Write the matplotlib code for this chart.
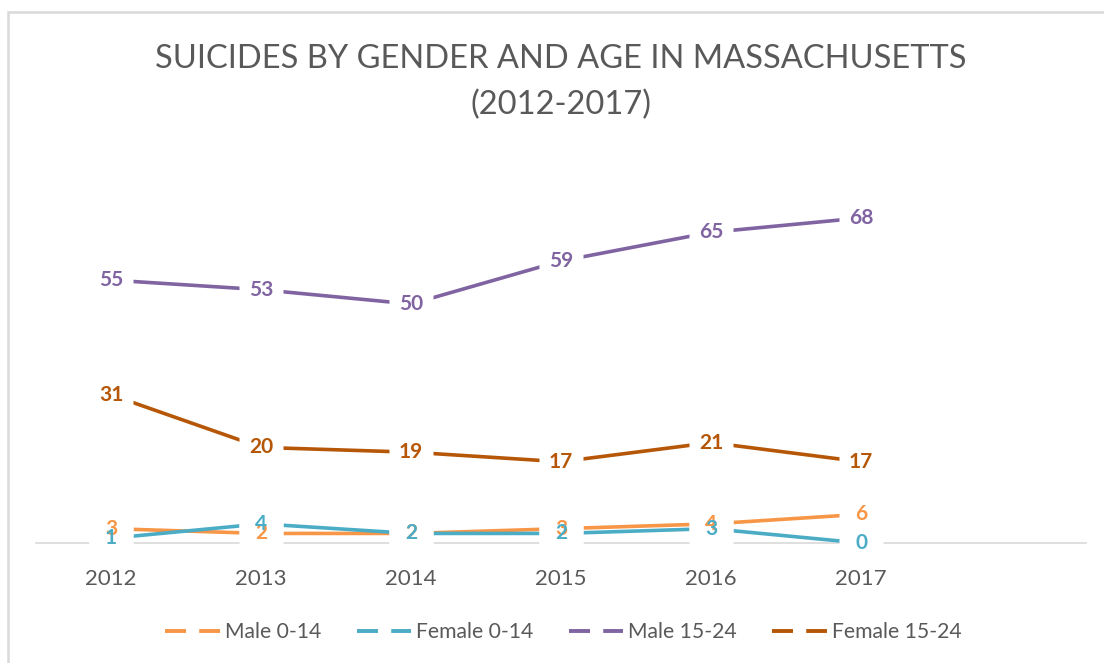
import matplotlib
matplotlib.use('Agg')
import numpy as np
import matplotlib.pyplot as plt
from matplotlib.lines import Line2D
from matplotlib.patches import Rectangle

plt.rcParams['font.family'] = ['Lato', 'DejaVu Sans']

years = ['2012', '2013', '2014', '2015', '2016', '2017']
male_0_14 = [3, 2, 2, 3, 4, 6]
female_0_14 = [1, 4, 2, 2, 3, 0]
male_15_24 = [55, 53, 50, 59, 65, 68]
female_15_24 = [31, 20, 19, 17, 21, 17]

names = ['Male 0-14', 'Female 0-14', 'Male 15-24', 'Female 15-24']
values = [male_0_14, female_0_14, male_15_24, female_15_24]
colors = ['#F79646', '#4BACC6', '#8064A2', '#B65708']

W, H = 1104, 663
fig = plt.figure(figsize=(W / 100, H / 100), dpi=100)

# chart area border (light gray)
fig.add_artist(Rectangle((7.5 / W, -0.05), 1.1, 1 - 11.5 / H + 0.05,
                         transform=fig.transFigure, fill=False,
                         edgecolor='#D9D9D9', lw=1.8, clip_on=False))

ax = fig.add_axes([36 / W, 120 / H, 1050 / W, 393 / H])
x = np.arange(len(years))

for name, vals, c in zip(names, values, colors):
    ax.plot(x, vals, color=c, lw=2.6, solid_capstyle='butt', zorder=2.6)

# white boxes behind the data labels (break the lines like in Excel)
box = [(-1, -0.72), (1, -0.72), (1, 0.72), (-1, 0.72), (-1, -0.72)]
for vals in values:
    ax.plot(x, vals, linestyle='none', marker=box, markersize=31.5,
            mfc='white', mec='none', zorder=3, clip_on=False)

for vals, c in zip(values, colors):
    for xi, v in zip(x, vals):
        ax.text(xi, v, str(v), ha='center', va='center', fontsize=15,
                fontweight='bold', color=c, zorder=4)

ax.set_xlim(-0.5, 6.5)
ax.set_ylim(0, 393 / 4.78)
ax.set_xticks(x)
ax.set_xticklabels(years, fontsize=16, color='#595959')
ax.set_yticks([])
ax.tick_params(axis='x', length=0, pad=18.5)
for s in ['top', 'left', 'right']:
    ax.spines[s].set_visible(False)
ax.spines['bottom'].set_color('#D9D9D9')
ax.spines['bottom'].set_linewidth(1.2)

fig.text(560.5 / W, 1 - 59 / H, 'SUICIDES BY GENDER AND AGE IN MASSACHUSETTS',
         ha='center', va='center', fontsize=23.5, color='#595959')
fig.text(560.5 / W, 1 - 105 / H, '(2012-2017)',
         ha='center', va='center', fontsize=23.5, color='#595959')

handles = [Line2D([], [], color=c, lw=2.8, linestyle=(0, (5.4, 3.4)))
           for c in colors]
fig.legend(handles, names, loc='center', bbox_to_anchor=(563.5 / W, 31 / H),
           ncol=4, frameon=False, fontsize=15.2, labelcolor='#595959',
           handlelength=2.6, handletextpad=0.24, columnspacing=1.65)

fig.savefig('out.png', dpi=100)
